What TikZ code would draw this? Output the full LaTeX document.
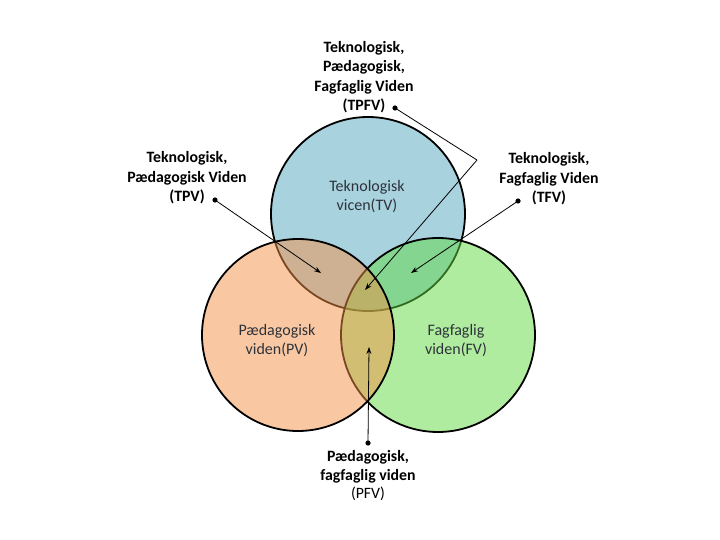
\documentclass[tikz,border=0pt]{standalone}
\usepackage{fontspec}
\setmainfont{Carlito}
\usetikzlibrary{arrows.meta}
\definecolor{tvblue}{RGB}{168,210,222}
\definecolor{fvgreen}{RGB}{97,217,65}
\definecolor{pvorange}{RGB}{243,145,71}
\definecolor{innertext}{RGB}{45,50,58}
\tikzset{
  venn/.style={line width=1.8pt, draw=black},
  outlabel/.style={align=center, font=\bfseries\fontsize{15.8}{19.5}\selectfont, inner sep=0pt},
  inlabel/.style={align=center, font=\fontsize{16}{19}\selectfont, text=innertext, inner sep=0pt},
  connector/.style={line width=0.8pt, draw=black, -{Stealth[length=7pt,width=5pt]}},
  plainline/.style={line width=0.8pt, draw=black},
  dotmark/.style={fill=black}
}
\begin{document}
\begin{tikzpicture}[x=1pt,y=-1pt]
\useasboundingbox (0,0) rectangle (720,540);
% circles
\draw[venn, fill=tvblue] (368,214) circle[radius=97];
\draw[venn, fill=fvgreen, fill opacity=0.5] (438,335) circle[radius=97];
\draw[venn, fill=pvorange, fill opacity=0.5] (298,335) circle[radius=96];
% circle labels
\node[inlabel] (tv) at (367,197) {Teknologisk\\vicen(TV)};
\node[inlabel] (pv) at (277,341) {Pædagogisk\\viden(PV)};
\node[inlabel] (fv) at (456,341) {Fagfaglig\\viden(FV)};
% outside labels
\node[outlabel] (tpfv) at (364,77) {Teknologisk,\\Pædagogisk,\\Fagfaglig Viden\\(TPFV)};
\node[outlabel] (tpv) at (187,178) {Teknologisk,\\Pædagogisk Viden\\(TPV)};
\node[outlabel] (tfv) at (549,179) {Teknologisk,\\Fagfaglig Viden\\(TFV)};
\node[outlabel, font=\fontsize{15.8}{18.5}\selectfont] (pfv) at (368,476) {\textbf{Pædagogisk,}\\\textbf{fagfaglig viden}\\(PFV)};
% anchor points
\coordinate (dtpfv) at (395,108);
\coordinate (bend) at (477,160);
\coordinate (ttpfv) at (365,290);
\coordinate (dtpv) at (215,200);
\coordinate (ttpv) at (321,273);
\coordinate (dtfv) at (518,201);
\coordinate (ttfv) at (411,273);
\coordinate (dpfv) at (368,443);
\coordinate (tpfvend) at (369,347);
% connectors
\draw[plainline] (dtpfv) -- (bend);
\draw[connector] (bend) -- (ttpfv);
\draw[connector] (dtpv) -- (ttpv);
\draw[connector] (dtfv) -- (ttfv);
\draw[connector] (dpfv) -- (tpfvend);
% dots
\fill[dotmark] (dtpfv) circle[radius=2.6];
\fill[dotmark] (dtpv) circle[radius=2.6];
\fill[dotmark] (dtfv) circle[radius=2.6];
\fill[dotmark] (dpfv) circle[radius=2.6];
\end{tikzpicture}
\end{document}
